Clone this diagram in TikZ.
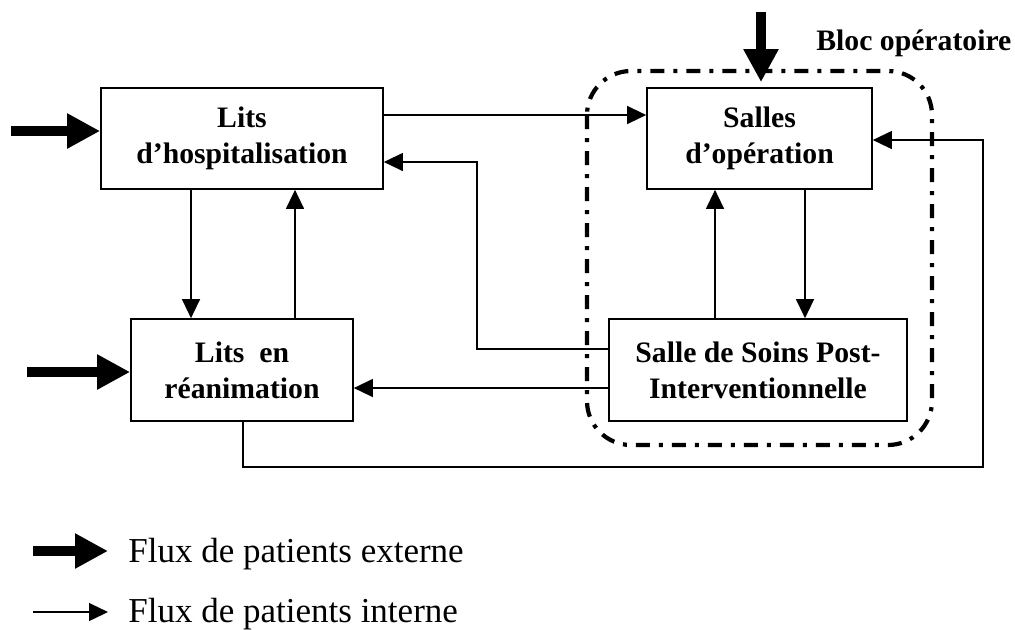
\documentclass[tikz,border=0pt]{standalone}
\usepackage{fontspec}
\setmainfont{Liberation Serif}
\usetikzlibrary{arrows.meta}

\begin{document}
\begin{tikzpicture}[x=0.5pt,y=-0.5pt,
    box/.style={draw,line width=0.85pt,align=center,inner sep=0pt,
      font=\fontsize{14.85}{18}\selectfont\bfseries},
    flux/.style={line width=0.65pt,-{Triangle[length=9.5pt,width=9pt]}},
    externe/.style={line width=5pt,-{Triangle[length=16.5pt,width=16.5pt]}},
    bloc/.style={line width=2.1pt,rounded corners=22pt,
      dash pattern=on 7pt off 4.5pt on 2pt off 4.5pt},
    legende/.style={anchor=base west,inner sep=0pt,font=\fontsize{17.5}{20}\selectfont}]
  \useasboundingbox (0,0) rectangle (1015,629);

  % services
  \node[box,minimum width=141pt,minimum height=50.5pt] (hosp) at (242,138.5) {Lits\\d’hospitalisation};
  \node[box,minimum width=112.5pt,minimum height=50.5pt] (salles) at (759.5,138.5) {Salles\\d’opération};
  \node[box,minimum width=111pt,minimum height=51pt] (rea) at (242,370) {Lits~~en\\réanimation};
  \node[box,minimum width=149pt,minimum height=51pt] (sspi) at (758,370) {Salle de Soins Post-\\Interventionnelle};

  % bloc operatoire
  \draw[bloc] (587,71) rectangle (932,445);
  \node[anchor=base west,inner sep=0pt,font=\fontsize{14.85}{18}\selectfont\bfseries] (blocLabel) at (816,50) {Bloc opératoire};

  % flux externes
  \coordinate (inHosp) at (11,131);
  \coordinate (inRea) at (27,372);
  \coordinate (inSalles) at (761,12);
  \draw[externe] (inHosp) -- (inHosp -| hosp.west);
  \draw[externe] (inRea) -- (inRea -| rea.west);
  \draw[externe,shorten >=2.5pt] (inSalles) -- (inSalles |- salles.north);

  % flux internes
  \draw[flux] (hosp.east |- 0,115) -- (salles.west |- 0,115);
  \draw[flux] (sspi.west |- 0,349) -| (477,162) -- (hosp.east |- 0,162);
  \draw[flux] (sspi.west |- 0,388) -- (rea.east |- 0,388);
  \draw[flux] (hosp.south -| 191,0) -- (rea.north -| 191,0);
  \draw[flux] (rea.north -| 295,0) -- (hosp.south -| 295,0);
  \draw[flux] (sspi.north -| 715,0) -- (salles.south -| 715,0);
  \draw[flux] (salles.south -| 805,0) -- (sspi.north -| 805,0);
  \draw[flux] (rea.south -| 243,0) |- (983,467) |- (salles.east |- 0,140);

  % legende
  \node[legende] (txtExt) at (128,562) {Flux de patients externe};
  \node[legende] (txtInt) at (128,622) {Flux de patients interne};
  \coordinate (legExt) at (33,551);
  \coordinate (legInt) at (33,612);
  \draw[externe] (legExt) -- (legExt -| 108,0);
  \draw[flux] (legInt) -- (legInt -| 108,0);
\end{tikzpicture}
\end{document}
